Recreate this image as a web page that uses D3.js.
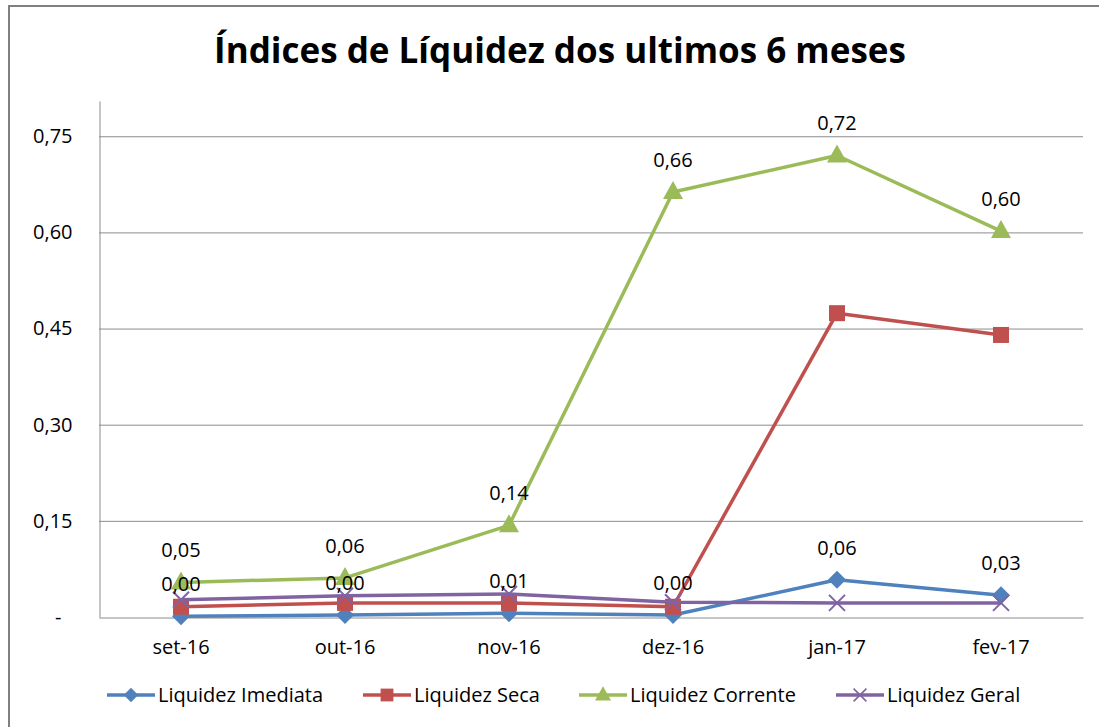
<!DOCTYPE html>
<html>
<head>
<meta charset="utf-8">
<script src="https://cdn.jsdelivr.net/npm/d3@7"></script>
<style>
  body { margin: 0; background: #fff; }
  text { font-family: "Open Sans", sans-serif; }
</style>
</head>
<body>
<svg id="chart" width="1099" height="727"></svg>
<script>
const months = ["set-16", "out-16", "nov-16", "dez-16", "jan-17", "fev-17"];
const imediata = [0.001, 0.003, 0.006, 0.003, 0.058, 0.034];
const seca = [0.016, 0.022, 0.022, 0.016, 0.474, 0.440];
const corrente = [0.054, 0.061, 0.143, 0.663, 0.720, 0.602];
const geral = [0.027, 0.033, 0.036, 0.023, 0.022, 0.022];
const yTicks = [0, 0.15, 0.30, 0.45, 0.60, 0.75];

const series = [
  {name: "Liquidez Imediata", values: imediata, color: "#4F81BD", symbol: "diamond", labels: true},
  {name: "Liquidez Seca", values: seca, color: "#C0504D", symbol: "square", labels: false},
  {name: "Liquidez Corrente", values: corrente, color: "#9BBB59", symbol: "triangle", labels: true},
  {name: "Liquidez Geral", values: geral, color: "#8064A2", symbol: "cross", labels: false}
];

const svg = d3.select("#chart");
const margin = {top: 101, right: 16, bottom: 110, left: 99};
const width = +svg.attr("width");
const height = +svg.attr("height");
const innerWidth = width - margin.left - margin.right;
const innerHeight = height - margin.top - margin.bottom;

// chart frame (only left and top edges are visible)
svg.append("path")
  .attr("d", "M9," + height + "V6H" + width)
  .attr("fill", "none").attr("stroke", "#808080").attr("stroke-width", 2);

svg.append("text")
  .attr("x", 560).attr("y", 63)
  .attr("text-anchor", "middle")
  .style("font-size", "35px").style("font-weight", "bold")
  .text("Índices de Líquidez dos ultimos 6 meses");

const chart = svg.append("g")
  .attr("transform", "translate(" + margin.left + "," + margin.top + ")");

const x = d3.scaleBand().domain(months).range([0, innerWidth]);
const y = d3.scaleLinear().domain([0, 0.805]).range([innerHeight, 0]);

const fmt = v => v === 0 ? "-" : d3.format(".2f")(v).replace(".", ",");

// gridlines
chart.append("g")
  .selectAll("line")
  .data(yTicks.slice(1))
  .enter().append("line")
  .attr("x1", 0).attr("x2", innerWidth)
  .attr("y1", d => y(d) + 0.5).attr("y2", d => y(d) + 0.5)
  .attr("stroke", "#8c8c8c");

// y axis
const yAxis = chart.append("g")
  .attr("transform", "translate(0.5,0)")
  .call(d3.axisLeft(y).tickValues(yTicks).tickFormat(fmt).tickSize(0).tickPadding(27));
yAxis.select(".domain").attr("stroke", "#8c8c8c");
yAxis.selectAll(".tick text").style("font-size", "20px").attr("fill", "#000")
  .attr("dx", d => d === 0 ? -11 : 0);

// x axis
const xAxis = chart.append("g")
  .attr("transform", "translate(0," + (innerHeight + 0.5) + ")")
  .call(d3.axisBottom(x).tickSize(0).tickPadding(22));
xAxis.select(".domain").attr("stroke", "#8c8c8c");
xAxis.selectAll(".tick text").style("font-size", "20px").attr("fill", "#000");

const cx = d => x(d) + x.bandwidth() / 2;
const line = d3.line().x((d, i) => cx(months[i])).y(d => y(d));

// excel-like markers
const markers = {
  diamond: {draw(c) { c.moveTo(0, -9); c.lineTo(9, 0); c.lineTo(0, 9); c.lineTo(-9, 0); c.closePath(); }},
  square: {draw(c) { c.rect(-8, -8, 16, 16); }},
  triangle: {draw(c) { c.moveTo(0, -11); c.lineTo(10, 7); c.lineTo(-10, 7); c.closePath(); }},
  cross: {draw(c) { c.moveTo(-8, -8); c.lineTo(8, 8); c.moveTo(8, -8); c.lineTo(-8, 8); }}
};

function drawMarker(g, s) {
  const p = d3.symbol().type(markers[s.symbol])();
  if (s.symbol === "cross") {
    g.append("path").attr("d", p).attr("fill", "none").attr("stroke", s.color).attr("stroke-width", 2);
  } else {
    g.append("path").attr("d", p).attr("fill", s.color);
  }
}

series.forEach(s => {
  chart.append("path")
    .datum(s.values)
    .attr("d", line)
    .attr("fill", "none")
    .attr("stroke", s.color)
    .attr("stroke-width", 3.5)
    .attr("stroke-linejoin", "round");
  s.values.forEach((v, i) => {
    const g = chart.append("g")
      .attr("transform", "translate(" + cx(months[i]) + "," + y(v) + ")");
    drawMarker(g, s);
  });
});

// data labels
series.filter(s => s.labels).forEach(s => {
  chart.append("g")
    .selectAll("text")
    .data(s.values)
    .enter().append("text")
    .attr("x", (d, i) => cx(months[i]))
    .attr("y", d => y(d) - 25)
    .attr("text-anchor", "middle")
    .style("font-size", "20px")
    .text(d => d3.format(".2f")(d).replace(".", ","));
});

// legend
const legendX = [107, 363, 579, 836];
const legend = svg.append("g").attr("transform", "translate(0,695)");
series.forEach((s, i) => {
  const g = legend.append("g").attr("transform", "translate(" + legendX[i] + ",0)");
  g.append("line").attr("x1", 0).attr("x2", 48).attr("stroke", s.color).attr("stroke-width", 3.5);
  drawMarker(g.append("g").attr("transform", "translate(24,0) scale(0.8)"), s);
  g.append("text")
    .attr("x", 51).attr("y", 7)
    .style("font-size", "20px")
    .text(s.name);
});
</script>
</body>
</html>
